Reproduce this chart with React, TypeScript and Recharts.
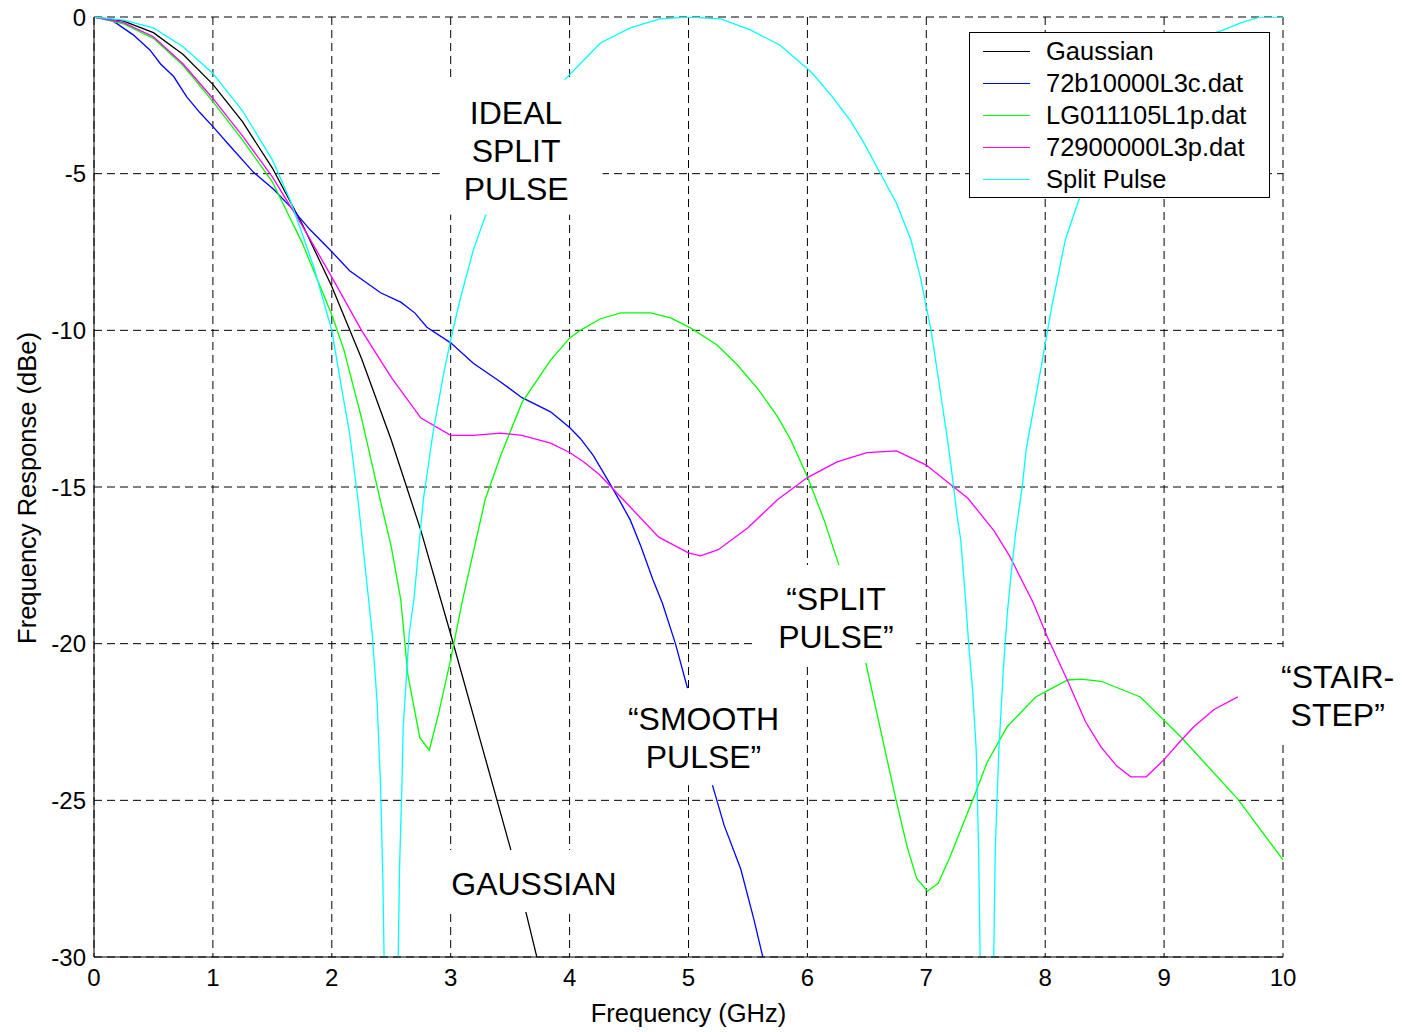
import { LineChart, Line, XAxis, YAxis, CartesianGrid, Legend, ReferenceDot } from 'recharts'

const FONT = '"Liberation Sans", Arial, Helvetica, sans-serif'

const xTicks = [0, 1, 2, 3, 4, 5, 6, 7, 8, 9, 10]
const yTicks = [-30, -25, -20, -15, -10, -5, 0]

// [frequency GHz, response dBe]
const gaussian: [number, number][] = [
    [0, 0], [0.25, -0.13], [0.5, -0.5], [0.75, -1.2], [1, -2.15], [1.25, -3.35], [1.5, -4.82], [1.75, -6.6],
    [2, -8.6], [2.25, -10.9], [2.5, -13.5], [2.75, -16.4], [3, -19.7], [3.25, -23.1], [3.5, -26.5], [3.75, -30.4],
]

const smooth72b: [number, number][] = [
    [0, 0], [0.15, -0.1], [0.33, -0.57], [0.47, -1.05], [0.56, -1.5], [0.67, -1.9], [0.78, -2.55], [0.89, -3.05],
    [1, -3.5], [1.14, -4.1], [1.34, -4.95], [1.51, -5.5], [1.65, -6.05], [1.82, -6.8], [1.99, -7.45], [2.15, -8.1],
    [2.41, -8.8], [2.58, -9.1], [2.7, -9.45], [2.8, -9.9], [3, -10.4], [3.19, -11.05], [3.42, -11.65], [3.6, -12.15],
    [3.84, -12.6], [4, -13.1], [4.09, -13.45], [4.2, -14.0], [4.34, -14.9], [4.43, -15.5], [4.51, -16.05], [4.6, -16.9],
    [4.7, -17.95], [4.78, -18.7], [4.89, -20.0], [4.99, -21.4], [5.1, -23.0], [5.2, -24.5], [5.3, -25.8], [5.44, -27.2],
    [5.55, -28.8], [5.65, -30.4],
]

const lg011105: [number, number][] = [
    [0, 0], [0.25, -0.22], [0.5, -0.68], [0.75, -1.55], [1, -2.7], [1.25, -3.93], [1.5, -5.26], [1.75, -7.2],
    [2, -9.5], [2.1, -10.6], [2.25, -12.8], [2.4, -15.3], [2.5, -16.9], [2.58, -18.6], [2.64, -21.0], [2.74, -23.0],
    [2.82, -23.4], [2.9, -22.2], [3, -20.5], [3.1, -18.6], [3.29, -15.4], [3.42, -14.0], [3.6, -12.3], [3.84, -10.95],
    [4, -10.25], [4.09, -10.0], [4.26, -9.63], [4.43, -9.44], [4.68, -9.44], [4.85, -9.6], [5.02, -9.93], [5.24, -10.47],
    [5.41, -11.1], [5.59, -11.9], [5.75, -12.76], [5.86, -13.5], [6, -14.67], [6.14, -16.05], [6.27, -17.55], [6.38, -19.0],
    [6.49, -20.6], [6.74, -24.9], [6.84, -26.5], [6.92, -27.5], [7.01, -27.9], [7.1, -27.65], [7.2, -26.8], [7.42, -24.7],
    [7.51, -23.8], [7.68, -22.65], [7.92, -21.7], [8.02, -21.5], [8.19, -21.16], [8.3, -21.13], [8.47, -21.2], [8.8, -21.7],
    [9.14, -22.97], [9.62, -24.96], [10, -26.9],
]

const stair729: [number, number][] = [
    [0, 0], [0.25, -0.18], [0.5, -0.63], [0.75, -1.5], [1, -2.6], [1.25, -3.8], [1.5, -5.1], [1.75, -6.65],
    [2, -8.3], [2.25, -10.0], [2.5, -11.5], [2.75, -12.8], [3, -13.35], [3.19, -13.35], [3.42, -13.28], [3.6, -13.35],
    [3.84, -13.6], [4, -13.9], [4.12, -14.2], [4.25, -14.6], [4.5, -15.6], [4.75, -16.6], [5, -17.1], [5.1, -17.2],
    [5.25, -17.0], [5.5, -16.3], [5.75, -15.4], [6, -14.7], [6.25, -14.2], [6.5, -13.9], [6.75, -13.85], [7, -14.3],
    [7.23, -15.0], [7.35, -15.36], [7.57, -16.4], [7.7, -17.2], [7.9, -18.7], [8.02, -19.8], [8.19, -21.2], [8.34, -22.5],
    [8.47, -23.3], [8.6, -23.9], [8.72, -24.25], [8.85, -24.25], [9, -23.7], [9.14, -23.1], [9.25, -22.65], [9.42, -22.1],
    [9.62, -21.7],
]

const splitPulse: [number, number][] = [
    [0, 0], [0.25, -0.1], [0.5, -0.35], [0.75, -0.95], [1, -1.8], [1.25, -3.0], [1.5, -4.56], [1.65, -5.85],
    [1.75, -6.9], [1.85, -8.0], [2, -10.0], [2.08, -11.8], [2.15, -13.3], [2.22, -15.4], [2.31, -18.6], [2.34, -19.7],
    [2.38, -21.8], [2.41, -24.5], [2.43, -27.6], [2.5, -45], [2.57, -27.1], [2.59, -24.5], [2.6, -22.7], [2.65, -19.7],
    [2.69, -18.6], [2.77, -15.4], [2.85, -13.3], [2.94, -11.4], [3, -10.3], [3.08, -9.0], [3.19, -7.44], [3.29, -6.37],
    [3.5, -4.5], [3.75, -3.0], [3.96, -2.0], [4.12, -1.37], [4.26, -0.83], [4.51, -0.35], [4.76, -0.06], [5, 0],
    [5.27, -0.06], [5.52, -0.41], [5.77, -0.9], [6.03, -1.75], [6.2, -2.5], [6.36, -3.3], [6.48, -4.05], [6.6, -4.9],
    [6.75, -5.95], [6.87, -7.1], [6.95, -8.3], [7.04, -10.0], [7.12, -12.0],
    [7.19, -13.8], [7.23, -15.0], [7.26, -15.95], [7.29, -16.7], [7.33, -18.6], [7.36, -20.2], [7.39, -21.5], [7.42, -23.4],
    [7.44, -26.6], [7.51, -45], [7.58, -26.6], [7.61, -23.4], [7.65, -20.7], [7.68, -19.1], [7.71, -17.9], [7.75, -16.5],
    [7.81, -14.9], [7.84, -13.8], [7.96, -11.3], [8.05, -9.35], [8.17, -7.1], [8.34, -5.2], [8.55, -3.3], [8.89, -1.7],
    [9.2, -0.8], [9.5, -0.41], [9.65, -0.18], [9.81, 0], [10, 0],
]

const series = [
    { name: 'Gaussian', color: '#000000', points: gaussian },
    { name: '72b10000L3c.dat', color: '#0000ff', points: smooth72b },
    { name: 'LG011105L1p.dat', color: '#00ff00', points: lg011105 },
    { name: '72900000L3p.dat', color: '#ff00ff', points: stair729 },
    { name: 'Split Pulse', color: '#00ffff', points: splitPulse },
]

// text annotations, anchored in data space; box = white background patch
const notes = [
    { f: 3.55, db: -4.25, lines: ['IDEAL', 'SPLIT', 'PULSE'], w: 163, h: 135, dx: 5, dy: -3 },
    { f: 3.7, db: -27.64, lines: ['GAUSSIAN'], w: 188, h: 62, dx: 0, dy: -2 },
    { f: 5.126, db: -23.0, lines: ['\u201cSMOOTH', 'PULSE\u201d'], w: 172, h: 97, dx: 1, dy: -1 },
    { f: 6.24, db: -19.15, lines: ['\u201cSPLIT', 'PULSE\u201d'], w: 162, h: 98, dx: -1, dy: -3 },
    { f: 10.46, db: -21.64, lines: ['\u201cSTAIR-', 'STEP\u201d'], w: 132, h: 94, dx: -1, dy: -1 },
]

const toPoints = (pts: [number, number][]) => pts.map(([f, db]) => ({ f, db }))

function NoteShape({ cx, cy, note }: any) {
    const n = note.lines.length
    return (
        <g>
            <rect x={cx + note.dx - note.w / 2} y={cy + note.dy - note.h / 2} width={note.w} height={note.h} fill="#fff" />
            <text textAnchor="middle" fontFamily={FONT} fontSize={32} fill="#000">
                {note.lines.map((line: string, i: number) => (
                    <tspan key={i} x={cx} y={cy + (i - (n - 1) / 2) * 38} dy="0.36em">{line}</tspan>
                ))}
            </text>
        </g>
    )
}

function LegendBox() {
    return (
        <div style={{ boxSizing: 'border-box', width: 301, height: 166, border: '1px solid #000', background: '#fff', padding: '2px 0', fontFamily: FONT, fontSize: 25.5, color: '#000' }}>
            {series.map((s) => (
                <div key={s.name} style={{ display: 'flex', alignItems: 'center', height: 32 }}>
                    <div style={{ marginLeft: 13, width: 47, borderTop: `1px solid ${s.color}` }} />
                    <span style={{ marginLeft: 16, lineHeight: '32px', whiteSpace: 'nowrap' }}>{s.name}</span>
                </div>
            ))}
        </div>
    )
}

function YTitle(props: any) {
    const vb = props.viewBox
    const x = vb.x + 27
    const y = vb.y + vb.height / 2 + 1
    return (
        <text x={x} y={y} dy="0.36em" transform={`rotate(-90, ${x}, ${y})`} textAnchor="middle" fontFamily={FONT} fontSize={25.5} fill="#000">
            Frequency Response (dBe)
        </text>
    )
}

export default function App() {
    return (
        <div style={{ position: 'absolute', left: 0, top: 0, width: 1402, height: 1032, background: '#fff' }}>
            <LineChart width={1402} height={1032} margin={{ top: 17, right: 119, bottom: 0, left: 0 }}>
                <CartesianGrid stroke="#000" strokeDasharray="8 5" />
                <XAxis
                    dataKey="f"
                    type="number"
                    domain={[0, 10]}
                    ticks={xTicks}
                    interval={0}
                    allowDataOverflow
                    height={75}
                    tickLine={false}
                    tickSize={0}
                    tickMargin={12}
                    axisLine={{ stroke: '#000' }}
                    tick={{ fill: '#000', fontSize: 24, fontFamily: FONT }}
                    label={{ value: 'Frequency (GHz)', position: 'insideBottom', offset: 10, fill: '#000', fontSize: 25.5, fontFamily: FONT }}
                />
                <YAxis
                    dataKey="db"
                    type="number"
                    domain={[-30, 0]}
                    ticks={yTicks}
                    interval={0}
                    allowDataOverflow
                    width={94}
                    tickLine={false}
                    tickSize={0}
                    tickMargin={8}
                    axisLine={{ stroke: '#000' }}
                    tick={{ fill: '#000', fontSize: 24, fontFamily: FONT }}
                    label={YTitle}
                />
                {series.map((s) => (
                    <Line
                        key={s.name}
                        name={s.name}
                        data={toPoints(s.points)}
                        dataKey="db"
                        type="linear"
                        stroke={s.color}
                        strokeWidth={1.3}
                        dot={false}
                        activeDot={false}
                        isAnimationActive={false}
                    />
                ))}
                {notes.map((n, i) => (
                    <ReferenceDot
                        key={i}
                        x={n.f}
                        y={n.db}
                        r={0}
                        ifOverflow="visible"
                        shape={(p: any) => <NoteShape cx={p.cx} cy={p.cy} note={n} />}
                    />
                ))}
                <Legend
                    layout="horizontal"
                    verticalAlign="middle"
                    align="center"
                    wrapperStyle={{ left: 969, top: 32, width: 301, height: 166 }}
                    content={() => <LegendBox />}
                />
            </LineChart>
        </div>
    )
}
